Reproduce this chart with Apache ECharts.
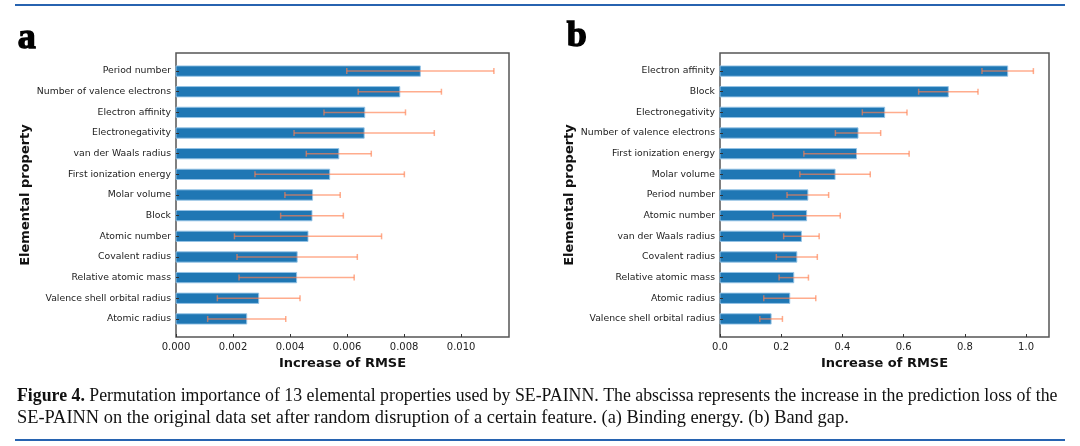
<!DOCTYPE html>
<html>
<head>
<meta charset="utf-8">
<script src="https://cdn.jsdelivr.net/npm/echarts@6/dist/echarts.min.js"></script>
<style>html,body{margin:0;padding:0;background:#fff}#c{width:1080px;height:446px}</style>
</head>
<body>
<div id="c"></div>
<script>
// Panel a: Binding energy
const categoriesA = ['Period number','Number of valence electrons','Electron affinity','Electronegativity','van der Waals radius','First ionization energy','Molar volume','Block','Atomic number','Covalent radius','Relative atomic mass','Valence shell orbital radius','Atomic radius'];
const valuesA = [0.00857,0.00785,0.00662,0.00660,0.00571,0.00539,0.00479,0.00477,0.00463,0.00425,0.00423,0.00290,0.00248];
const errorsA = [0.00258,0.00146,0.00143,0.00246,0.00114,0.00262,0.00097,0.00110,0.00258,0.00211,0.00202,0.00145,0.00137];
const ticksA = [0,0.002,0.004,0.006,0.008,0.010];

// Panel b: Band gap
const categoriesB = ['Electron affinity','Block','Electronegativity','Number of valence electrons','First ionization energy','Molar volume','Period number','Atomic number','van der Waals radius','Covalent radius','Relative atomic mass','Atomic radius','Valence shell orbital radius'];
const valuesB = [0.940,0.746,0.538,0.451,0.446,0.376,0.287,0.283,0.266,0.251,0.241,0.228,0.167];
const errorsB = [0.084,0.097,0.073,0.074,0.172,0.115,0.068,0.110,0.058,0.067,0.048,0.085,0.037];
const ticksB = [0,0.2,0.4,0.6,0.8,1.0];

const BAR = '#1f77b4';
const ERR = 'rgba(255,127,80,0.65)';
const FONT = 'DejaVu Sans';
const idxs = categoriesA.map((_, i) => i);

function barItem(params, api) {
  const v = api.value(0), i = api.value(1);
  const p0 = api.coord([0, i]);
  const p1 = api.coord([v, i]);
  const h = api.size([0, 0.5])[1];
  return {type: 'rect', shape: {x: p0[0], y: p0[1] - h / 2, width: p1[0] - p0[0], height: h},
    style: {fill: BAR, stroke: 'rgba(150,195,230,0.9)', lineWidth: 1}};
}
function errItem(params, api) {
  const i = api.value(1), lo = api.value(2), hi = api.value(3);
  const a = api.coord([lo, i]), b = api.coord([hi, i]);
  const c = 3;
  const st = {stroke: ERR, lineWidth: 1.5};
  return {type: 'group', children: [
    {type: 'line', shape: {x1: a[0], y1: a[1], x2: b[0], y2: b[1]}, style: st},
    {type: 'line', shape: {x1: a[0], y1: a[1] - c, x2: a[0], y2: a[1] + c}, style: st},
    {type: 'line', shape: {x1: b[0], y1: b[1] - c, x2: b[0], y2: b[1] + c}, style: st}
  ]};
}
function mk(vals, errs) {
  return vals.map((v, i) => [v, i, v - errs[i], v + errs[i]]);
}
function xAxisCfg(gi, max, ticks, dec) {
  return {
    type: 'value', gridIndex: gi, min: 0, max: max, interval: ticks[1], z: 5, position: 'bottom',
    name: 'Increase of RMSE', nameLocation: 'middle', nameGap: 19,
    nameTextStyle: {fontFamily: FONT, fontWeight: 'bold', fontSize: 13, color: '#111'},
    axisLine: {show: false, onZero: false},
    axisTick: {show: true, inside: true, length: 3, lineStyle: {color: '#333'}},
    axisLabel: {showMaxLabel: false, formatter: v => Number(v).toFixed(dec), fontFamily: FONT, fontSize: 10, color: '#222', margin: 5},
    splitLine: {show: false}
  };
}
function yAxisCfg(gi, cats) {
  return {
    type: 'value', gridIndex: gi, min: -0.875, max: 12.875, inverse: true, z: 5, position: 'left',
    name: 'Elemental property', nameLocation: 'middle', nameGap: 144, nameRotate: 90,
    nameTextStyle: {fontFamily: FONT, fontWeight: 'bold', fontSize: 13, color: '#111'},
    axisLine: {show: false, onZero: false},
    axisTick: {show: true, inside: true, length: 3, customValues: idxs, lineStyle: {color: '#333'}},
    axisLabel: {customValues: idxs, formatter: v => cats[Math.round(v)] || '', fontFamily: FONT, fontSize: 9.3, color: '#222', margin: 5},
    splitLine: {show: false}
  };
}

const chart = echarts.init(document.getElementById('c'), null, {renderer: 'canvas'});
chart.setOption({
  animation: false,
  backgroundColor: '#fff',
  grid: [
    {left: 176, top: 53, width: 333, height: 284, show: true, borderColor: '#555', borderWidth: 1.5, backgroundColor: 'transparent'},
    {left: 720, top: 53, width: 329, height: 284, show: true, borderColor: '#555', borderWidth: 1.5, backgroundColor: 'transparent'}
  ],
  xAxis: [xAxisCfg(0, 0.01168, ticksA, 3), xAxisCfg(1, 1.075, ticksB, 1)],
  yAxis: [yAxisCfg(0, categoriesA), yAxisCfg(1, categoriesB)],
  series: [
    {type: 'custom', xAxisIndex: 0, yAxisIndex: 0, renderItem: barItem, data: mk(valuesA, errorsA), encode: {x: [0, 2, 3], y: 1}},
    {type: 'custom', xAxisIndex: 0, yAxisIndex: 0, renderItem: errItem, data: mk(valuesA, errorsA), encode: {x: [0, 2, 3], y: 1}, z: 3},
    {type: 'custom', xAxisIndex: 1, yAxisIndex: 1, renderItem: barItem, data: mk(valuesB, errorsB), encode: {x: [0, 2, 3], y: 1}},
    {type: 'custom', xAxisIndex: 1, yAxisIndex: 1, renderItem: errItem, data: mk(valuesB, errorsB), encode: {x: [0, 2, 3], y: 1}, z: 3}
  ],
  graphic: [
    {type: 'line', shape: {x1: 15, y1: 5, x2: 1065, y2: 5}, style: {stroke: '#2763b0', lineWidth: 2}},
    {type: 'line', shape: {x1: 15, y1: 440, x2: 1065, y2: 440}, style: {stroke: '#2763b0', lineWidth: 2}},
    {type: 'text', left: 17, top: 20, style: {text: 'a', fontFamily: 'Liberation Serif', fontWeight: 'bold', fontSize: 36, fill: '#000', stroke: '#000', lineWidth: 1.4}},
    {type: 'text', left: 566, top: 18, style: {text: 'b', fontFamily: 'Liberation Serif', fontWeight: 'bold', fontSize: 36, fill: '#000', stroke: '#000', lineWidth: 1.4}},
    {type: 'text', x: 17, y: 396, style: {
      text: '{b|Figure 4.} Permutation importance of 13 elemental properties used by SE-PAINN. The abscissa represents the increase in the prediction loss of the',
      fontFamily: 'Liberation Serif', fontSize: 17.8, fill: '#111', verticalAlign: 'middle',
      rich: {b: {fontFamily: 'Liberation Serif', fontSize: 17.8, fontWeight: 'bold', fill: '#111'}}}},
    {type: 'text', x: 17, y: 418, style: {
      text: 'SE-PAINN on the original data set after random disruption of a certain feature. (a) Binding energy. (b) Band gap.',
      fontFamily: 'Liberation Serif', fontSize: 18.4, fill: '#111', verticalAlign: 'middle'}}
  ]
});
</script>
</body>
</html>
